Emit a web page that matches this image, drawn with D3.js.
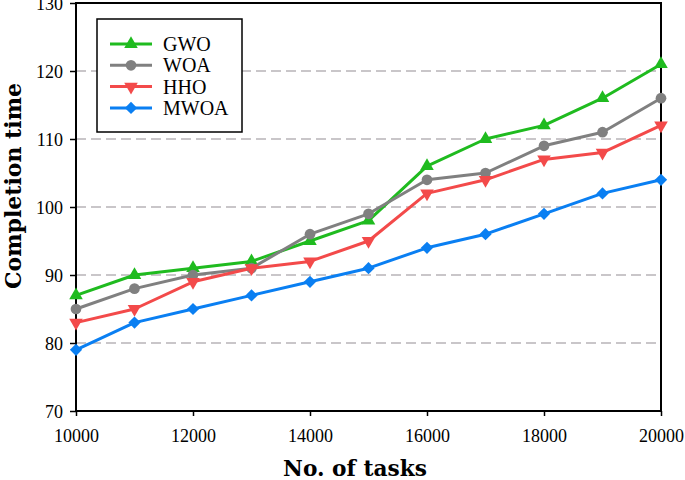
<!DOCTYPE html>
<html><head><meta charset="utf-8">
<script src="https://cdn.jsdelivr.net/npm/d3@7"></script>
<style>body{margin:0;background:#fff}svg{display:block}</style>
</head><body>
<svg id="c" width="685" height="480"></svg>
<script>
const tasks = [10000,11000,12000,13000,14000,15000,16000,17000,18000,19000,20000];
const gwo  = [87,90,91,92,95,98,106,110,112,116,121];
const woa  = [85,88,90,91,96,99,104,105,109,111,116];
const hho  = [83,85,89,91,92,95,102,104,107,108,112];
const mwoa = [79,83,85,87,89,91,94,96,99,102,104];
const xTicks = [10000,12000,14000,16000,18000,20000];
const yTicks = [70,80,90,100,110,120,130];
const gridTicks = [80,90,100,110,120];
const seriesNames = ["GWO","WOA","HHO","MWOA"];

const series = [
  {name:"GWO", values:gwo, color:"#1fbb1f", sym:"triUp"},
  {name:"WOA", values:woa, color:"#808080", sym:"circle"},
  {name:"HHO", values:hho, color:"#f34a4a", sym:"triDown"},
  {name:"MWOA", values:mwoa, color:"#0a7ff2", sym:"diamond"}
];

const svg = d3.select("#c");
const L=76, R=661, T=3, B=411;
const x = d3.scaleLinear().domain([10000,20000]).range([L,R]);
const y = d3.scaleLinear().domain([70,130]).range([B,T]);
const serif = "'Liberation Serif','DejaVu Serif',serif";
const serifB = "'DejaVu Serif','Liberation Serif',serif";

// grid
svg.append("g").selectAll("line").data(gridTicks).join("line")
  .attr("x1",L).attr("x2",R).attr("y1",d=>y(d)).attr("y2",d=>y(d))
  .attr("stroke","#b8b4b8").attr("stroke-width",1.3).attr("stroke-dasharray","10,5");

// axes
const yAxis = svg.append("g").attr("transform",`translate(${L},0)`)
  .call(d3.axisLeft(y).tickValues(yTicks).tickSize(6).tickPadding(7));
const xAxis = svg.append("g").attr("transform",`translate(0,${B})`)
  .call(d3.axisBottom(x).tickValues(xTicks).tickSize(5).tickPadding(13).tickFormat(d3.format("d")));
[yAxis,xAxis].forEach(a=>{
  a.select(".domain").remove();
  a.selectAll("line").attr("stroke","#000").attr("stroke-width",1.5);
  a.selectAll("text").attr("font-family",serif).attr("font-size",18).attr("fill","#000");
});
yAxis.selectAll("text").attr("dy","0.35em");

// frame
svg.append("rect").attr("x",L).attr("y",T).attr("width",R-L).attr("height",B-T)
  .attr("fill","none").attr("stroke","#000").attr("stroke-width",2);

const symMap = {
  triUp: d3.symbol().type(d3.symbolTriangle).size(80),
  circle: d3.symbol().type(d3.symbolCircle).size(90),
  triDown: d3.symbol().type(d3.symbolTriangle).size(80),
  diamond: d3.symbol().type(d3.symbolSquare).size(75)
};
function symTransform(s, cx, cy){
  if(s==="triDown") return `translate(${cx},${cy}) rotate(180)`;
  if(s==="diamond") return `translate(${cx},${cy}) rotate(45)`;
  return `translate(${cx},${cy})`;
}

const line = d3.line().x((d,i)=>x(tasks[i])).y(d=>y(d));
series.forEach(s=>{
  const g = svg.append("g");
  g.append("path").datum(s.values).attr("d",line).attr("fill","none")
    .attr("stroke",s.color).attr("stroke-width",3).attr("stroke-linejoin","round");
  g.selectAll("path.m").data(s.values).join("path").attr("class","m")
    .attr("d",symMap[s.sym]()).attr("fill",s.color)
    .attr("transform",(d,i)=>symTransform(s.sym,x(tasks[i]),y(d)));
});

// legend
const lg = svg.append("g");
lg.append("rect").attr("x",97).attr("y",19).attr("width",145).attr("height",113)
  .attr("fill","#fff").attr("stroke","#000").attr("stroke-width",1.5);
series.forEach((s,i)=>{
  const cy = 44 + i*21.3;
  lg.append("line").attr("x1",110).attr("x2",152).attr("y1",cy).attr("y2",cy)
    .attr("stroke",s.color).attr("stroke-width",3);
  lg.append("path").attr("d",symMap[s.sym]()).attr("fill",s.color)
    .attr("transform",symTransform(s.sym,131,cy));
  lg.append("text").attr("x",163).attr("y",cy).attr("dy","0.35em")
    .attr("font-family",serif).attr("font-size",20).attr("fill","#000").text(seriesNames[i]);
});

// axis titles
function fit(t, target){
  const w = t.node().getComputedTextLength();
  const fs = parseFloat(t.attr("font-size"));
  if(w>0) t.attr("font-size", fs*target/w);
}
const xt = svg.append("text").attr("x",355).attr("y",476).attr("text-anchor","middle")
  .attr("font-family",serifB).attr("font-weight","bold").attr("font-size",19).text("No. of tasks");
fit(xt,144);
const yt = svg.append("text").attr("transform","translate(21,186) rotate(-90)").attr("text-anchor","middle")
  .attr("font-family",serifB).attr("font-weight","bold").attr("font-size",19).text("Completion time");
fit(yt,206);
</script>
</body></html>
